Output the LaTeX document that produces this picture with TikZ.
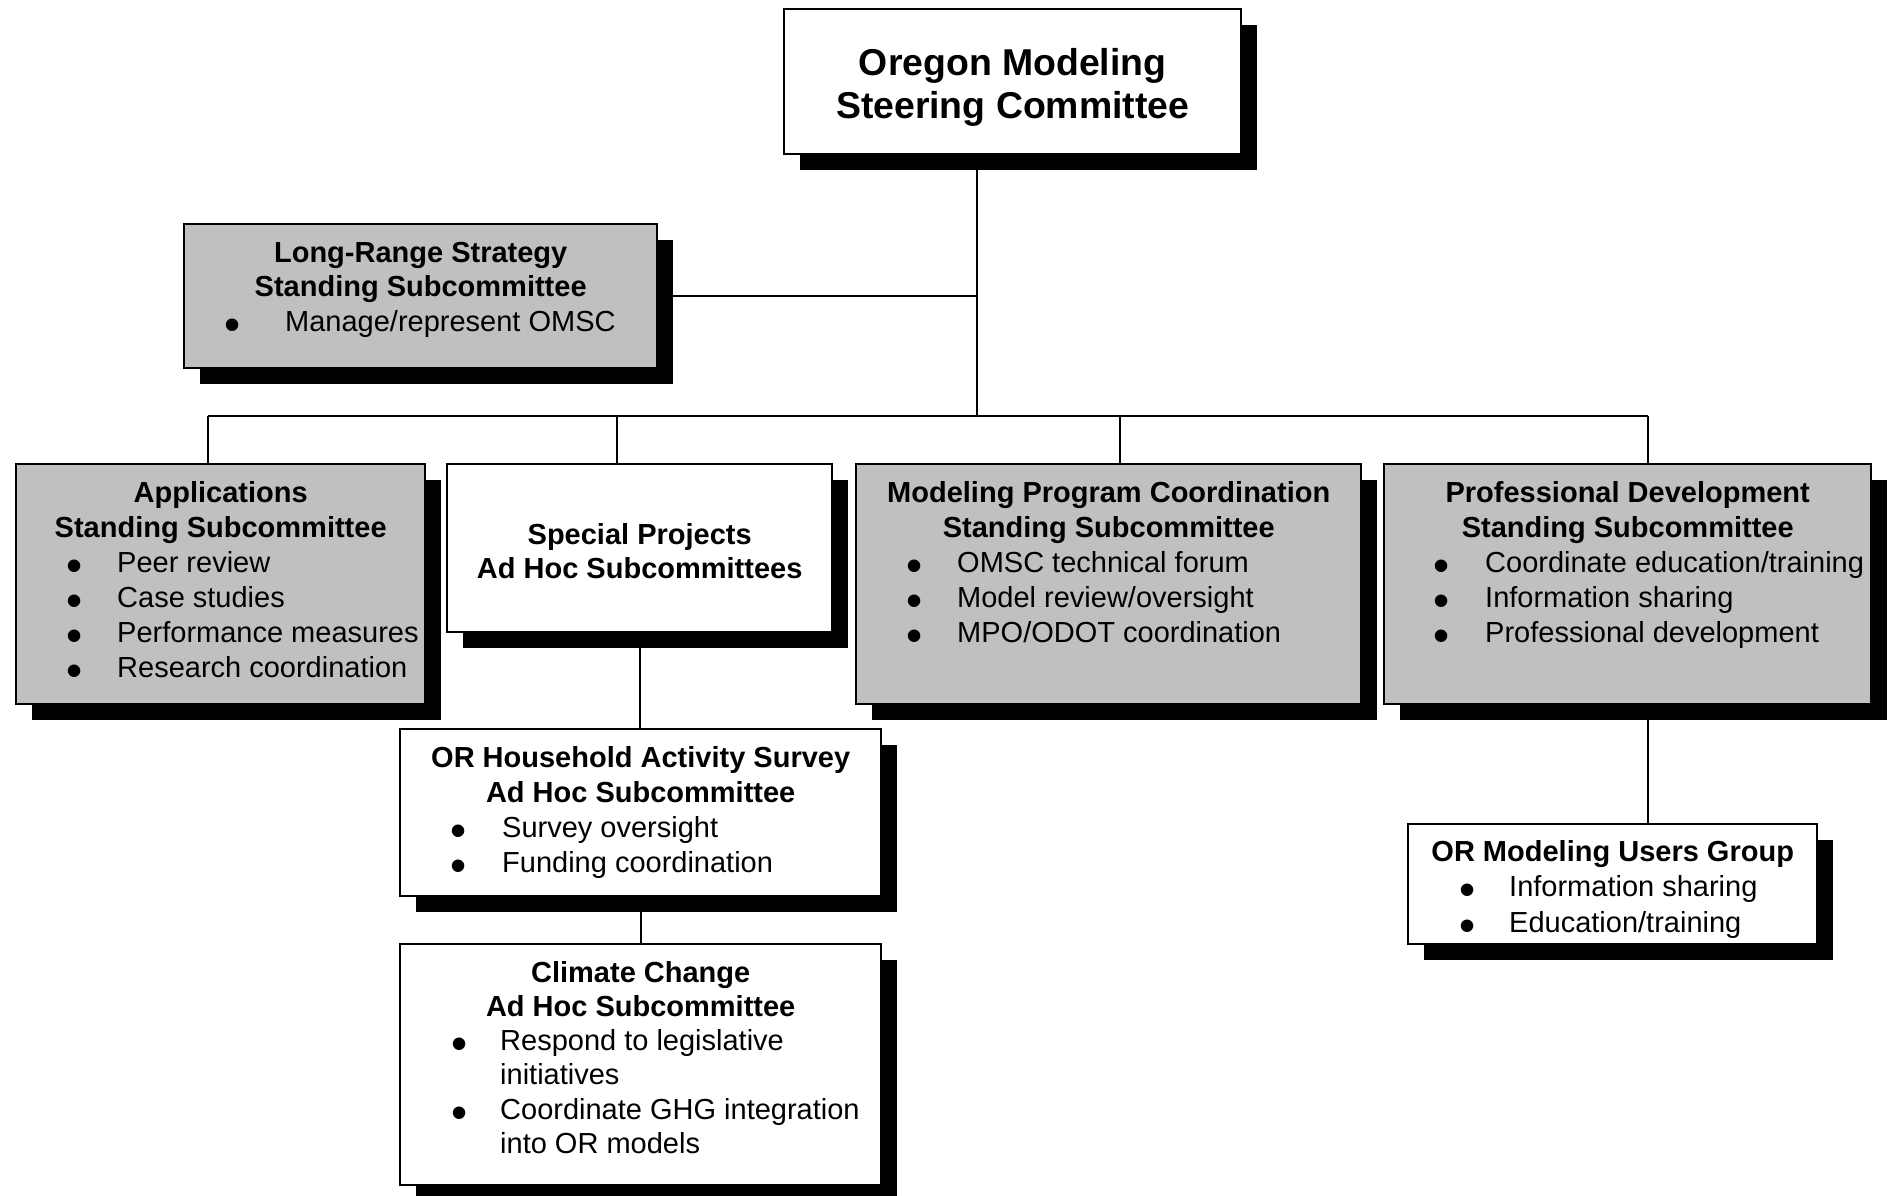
\documentclass[tikz,border=0pt]{standalone}
\usepackage{fontspec}
\setmainfont{Liberation Sans}
\usetikzlibrary{shadows,backgrounds}
\definecolor{boxgray}{RGB}{192,192,192}
\newcommand\bl[3]{\mbox{\makebox[0pt][l]{\hspace*{#1pt}\makebox[0pt]{\raisebox{-9.1pt}{\fontsize{46}{35}\selectfont\textbullet}}}\hspace*{#2pt}#3}}
\newcommand\bodyfont{\fontsize{29}{35}\selectfont}
\tikzset{
  box/.style={draw=black, line width=2.5pt, inner sep=0pt,
    drop shadow={fill=black, opacity=1, shadow xshift=16pt, shadow yshift=-16pt}},
  graybox/.style={box, fill=boxgray},
  whitebox/.style={box, fill=white},
  txt/.style={anchor=base west, inner sep=0pt},
  conn/.style={line width=2pt, draw=black},
}
\begin{document}
\begin{tikzpicture}[x=1pt, y=-1pt]
\useasboundingbox (0,0) rectangle (1893,1195);

% boxes
\node[whitebox, minimum width=457pt, minimum height=145pt] (top) at (1012.5,81.5) {};
\node[graybox, minimum width=473pt, minimum height=144pt] (lrs) at (420.5,296) {};
\node[graybox, minimum width=409pt, minimum height=240pt] (app) at (220.5,584) {};
\node[whitebox, minimum width=385pt, minimum height=168pt] (spec) at (639.5,548) {};
\node[graybox, minimum width=505pt, minimum height=240pt] (mpc) at (1108.5,584) {};
\node[graybox, minimum width=487pt, minimum height=240pt] (pd) at (1627.5,584) {};
\node[whitebox, minimum width=481pt, minimum height=167pt] (hh) at (640.5,812.5) {};
\node[whitebox, minimum width=481pt, minimum height=241pt] (cc) at (640.5,1064.5) {};
\node[whitebox, minimum width=409pt, minimum height=120pt] (ug) at (1612.5,884) {};

% texts
\node[txt] (top-t) at (784,75) {\parbox[t]{457pt}{\fontsize{37.4}{43.5}\selectfont\bfseries\centering Oregon Modeling\\Steering Committee\par}};

\node[txt] (lrs-t) at (184,262) {\parbox[t]{473pt}{\fontsize{29}{34.5}\selectfont\centering\bfseries Long-Range Strategy\\Standing Subcommittee\par
\raggedright\mdseries \bl{48}{101}{Manage/represent OMSC}\par}};

\node[txt] (app-t) at (16,502) {\parbox[t]{409pt}{\bodyfont\centering\bfseries Applications\\Standing Subcommittee\par
\raggedright\mdseries \bl{58}{101}{Peer review}\\\bl{58}{101}{Case studies}\\\bl{58}{101}{Performance measures}\\\bl{58}{101}{Research coordination}\par}};

\node[txt] (spec-t) at (447,544) {\parbox[t]{385pt}{\fontsize{29}{34}\selectfont\centering\bfseries Special Projects\\Ad Hoc Subcommittees\par}};

\node[txt] (mpc-t) at (856,502) {\parbox[t]{505pt}{\bodyfont\centering\bfseries Modeling Program Coordination\\Standing Subcommittee\par
\raggedright\mdseries \bl{58}{101}{OMSC technical forum}\\\bl{58}{101}{Model review/oversight}\\\bl{58}{101}{MPO/ODOT coordination}\par}};

\node[txt] (pd-t) at (1384,502) {\parbox[t]{487pt}{\bodyfont\centering\bfseries Professional Development\\Standing Subcommittee\par
\raggedright\mdseries \bl{57}{101}{Coordinate education/training}\\\bl{57}{101}{Information sharing}\\\bl{57}{101}{Professional development}\par}};

\node[txt] (hh-t) at (400,767) {\parbox[t]{481pt}{\bodyfont\centering\bfseries OR Household Activity Survey\\Ad Hoc Subcommittee\par
\raggedright\mdseries \bl{58}{102}{Survey oversight}\\\bl{58}{102}{Funding coordination}\par}};

\node[txt] (cc-t) at (400,982) {\parbox[t]{481pt}{\fontsize{29}{34.3}\selectfont\centering\bfseries Climate Change\\Ad Hoc Subcommittee\par
\raggedright\mdseries \bl{59}{100}{Respond to legislative}\\\mbox{\hspace*{100pt}initiatives}\\\bl{59}{100}{Coordinate GHG integration}\\\mbox{\hspace*{100pt}into OR models}\par}};

\node[txt] (ug-t) at (1408,861) {\parbox[t]{409pt}{\fontsize{29}{35.5}\selectfont\centering\bfseries OR Modeling Users Group\par
\raggedright\mdseries \bl{59}{101}{Information sharing}\\\bl{59}{101}{Education/training}\par}};

% connector junctions
\coordinate (j1) at (977,296);
\coordinate (j2) at (977,416);
\coordinate (b1) at (208,416);
\coordinate (b2) at (617,416);
\coordinate (b3) at (1120,416);
\coordinate (b4) at (1648,416);

\begin{pgfonlayer}{background}
  \fill[white] (0,0) rectangle (1893,1195);
  \draw[conn] (top.south -| j1) -- (j2);
  \draw[conn] (lrs.east) -- (j1);
  \draw[conn] (b1) -- (b4);
  \draw[conn] (b1) -- (b1 |- app.north);
  \draw[conn] (b2) -- (b2 |- spec.north);
  \draw[conn] (b3) -- (b3 |- mpc.north);
  \draw[conn] (b4) -- (b4 |- pd.north);
  \draw[conn] (spec.south) -- (spec.south |- hh.north);
  \draw[conn] (hh.south) -- (hh.south |- cc.north);
  \draw[conn] (b4 |- pd.south) -- (b4 |- ug.north);
\end{pgfonlayer}
\end{tikzpicture}
\end{document}
